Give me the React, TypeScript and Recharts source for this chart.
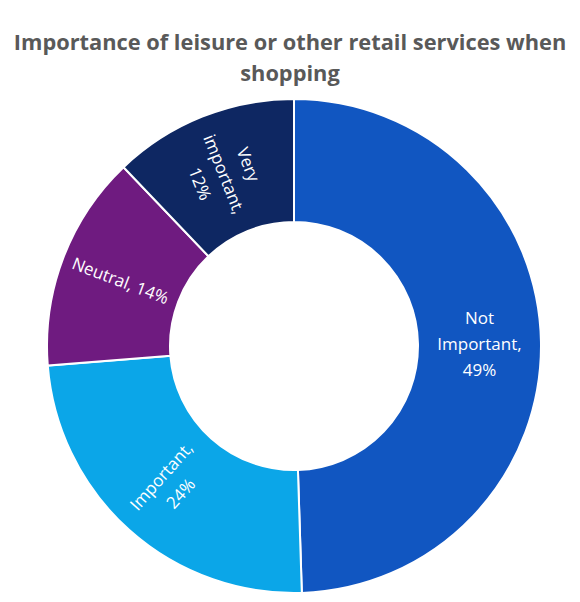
import { PieChart, Pie, Cell } from 'recharts'

const categories = ['Not Important', 'Important', 'Neutral', 'Very important']
const values = [49, 24, 14, 12]
// how Excel wrapped each data label
const labelLines = [
    ['Not', 'Important,', '49%'],
    ['Important,', '24%'],
    ['Neutral, 14%'],
    ['Very', 'important,', '12%'],
]
const COLORS = ['#1156c1', '#0ba6e8', '#6f1b80', '#0e2762']

const RAD = Math.PI / 180

const data = categories.map((name, i) => ({ name, value: values[i] }))

function SliceLabel(props: any) {
    const { cx, cy, midAngle, innerRadius, outerRadius, index } = props
    const r = (innerRadius + outerRadius) / 2
    const x = cx + r * Math.cos(-midAngle * RAD)
    const y = cy + r * Math.sin(-midAngle * RAD)
    // text reads towards the centre, unless that would turn it upside down
    let rot = Math.atan2(Math.sin(midAngle * RAD), -Math.cos(midAngle * RAD)) / RAD
    if (Math.abs(rot) > 90) rot = 0
    const lines = labelLines[index]
    const lh = 26
    const top = -((lines.length - 1) * lh) / 2
    return (
        <text
            x={x}
            y={y}
            transform={`rotate(${rot} ${x} ${y})`}
            fill="#ffffff"
            fontSize={17}
            fontFamily="'Open Sans', Lato, sans-serif"
            textAnchor="middle"
            dominantBaseline="central"
        >
            {lines.map((line, i) => (
                <tspan key={i} x={x} y={y + top + i * lh}>
                    {line}
                </tspan>
            ))}
        </text>
    )
}

export default function App() {
    return (
        <div
            style={{
                position: 'absolute',
                left: 0,
                top: 0,
                width: 580,
                height: 602,
                background: '#ffffff',
                fontFamily: "'Open Sans', Lato, sans-serif",
            }}
        >
            <div
                style={{
                    position: 'absolute',
                    left: 0,
                    top: 26,
                    width: 580,
                    textAlign: 'center',
                    color: '#595959',
                    fontWeight: 'bold',
                    fontSize: 21.8,
                    lineHeight: '31px',
                }}
            >
                Importance of leisure or other retail services when
                <br />
                shopping
            </div>
            <div style={{ position: 'absolute', left: 0, top: 0 }}>
                <PieChart width={580} height={602} margin={{ top: 0, right: 0, bottom: 0, left: 0 }}>
                    <Pie
                        data={data}
                        dataKey="value"
                        nameKey="name"
                        cx={294}
                        cy={346}
                        innerRadius={124}
                        outerRadius={247}
                        startAngle={90}
                        endAngle={-270}
                        stroke="#ffffff"
                        strokeWidth={2}
                        label={SliceLabel}
                        labelLine={false}
                        isAnimationActive={false}
                    >
                        {data.map((_, index) => (
                            <Cell key={`cell-${index}`} fill={COLORS[index % COLORS.length]} />
                        ))}
                    </Pie>
                </PieChart>
            </div>
        </div>
    )
}
